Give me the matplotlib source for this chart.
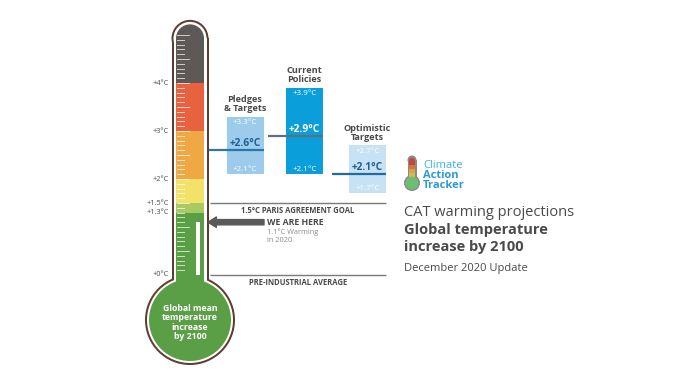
import numpy as np
import matplotlib.pyplot as plt
from matplotlib.patches import Rectangle, Ellipse

plt.rcParams['font.family'] = ['Open Sans', 'DejaVu Sans']

# thermometer bands (degC) and colours
band_edges = [0, 1.3, 1.5, 2.0, 3.0, 4.0]
band_colors = ["#5A9E46", "#A9C963", "#F2E267", "#F0A844", "#E9623F"]
top_color = "#5E5856"
temp_labels = [0, 1.3, 1.5, 2, 3, 4]
current_warming = 1.1
paris_goal = 1.5

# CAT scenarios
scenarios = ["Pledges\n& Targets", "Current\nPolicies", "Optimistic\nTargets"]
low = [2.1, 2.1, 1.7]
mid = [2.6, 2.9, 2.1]
high = [3.3, 3.9, 2.7]

# layout (x in pixels, y in degC)
SCALE = 48.0   # px per degC
Y0 = 275.0     # pixel row of 0 degC
def py(p):
    return (Y0 - p) / SCALE

W, H = 696, 385
fig = plt.figure(figsize=(W / 100, H / 100), dpi=100)
ax = fig.add_axes([0, 0, 1, 1])
ax.set_xlim(0, W)
ax.set_ylim(py(H), py(0))
ax.axis("off")

gray = "#4A4A4A"
brown = "#5E3D31"
tx = 190          # thermometer centre x
cap = 4.93        # centre of rounded top
bulb_y = py(320)

def ell(x, y, d, **kw):
    return Ellipse((x, y), d, d / SCALE, **kw)

# outline, white gap, then fill (tube + bulb per layer)
for hw, d, col in [(18.5, 90, brown), (16.5, 86, "white")]:
    ax.add_patch(Rectangle((tx - hw, bulb_y), 2 * hw, cap - bulb_y, color=col, lw=0))
    ax.add_patch(ell(tx, cap, 2 * hw, color=col, lw=0))
    ax.add_patch(ell(tx, bulb_y, d, color=col, lw=0))
ax.add_patch(ell(tx, bulb_y, 82, color=band_colors[0], lw=0))

tw = 28
ax.bar(tx, cap - 4.0, bottom=4.0, width=tw, color=top_color, lw=0)
ax.add_patch(ell(tx, cap, tw, color=top_color, lw=0))
ax.bar([tx] * 5, np.diff(band_edges), bottom=band_edges[:-1], width=tw,
       color=band_colors, lw=0)
ax.bar(tx, 0.6, bottom=-0.6, width=tw, color=band_colors[0], lw=0)

# scale ticks inside the tube
ticks = np.round(np.arange(0.1, 5.01, 0.1), 1)
for t in ticks:
    long = abs(t * 2 - round(t * 2)) < 1e-6
    ax.plot([tx - 13, tx - (1 if long else 6)], [t, t], color="white", lw=0.7, alpha=0.7)

# current warming column
ax.bar(tx + 8, current_warming, bottom=0, width=4, color="white", lw=0)

for t in temp_labels:
    lab = "+%g°C" % t
    ax.text(169, t, lab, ha="right", va="center", fontsize=5.3, color=gray)

ax.text(tx, bulb_y - 0.05, "Global mean\ntemperature\nincrease\nby 2100", ha="center",
        va="center", fontsize=6.3, fontweight="bold", color="white", linespacing=1.05)

# reference lines
ax.hlines([paris_goal, 0], 210, 386, color="#7A7A7A", lw=1)
ax.text(298, paris_goal - 0.15, "1.5°C PARIS AGREEMENT GOAL", ha="center", va="center",
        fontsize=5.5, fontweight="bold", color=gray)
ax.text(298, -0.15, "PRE-INDUSTRIAL AVERAGE", ha="center", va="center",
        fontsize=5.5, fontweight="bold", color=gray)

ax.annotate("", xy=(208, current_warming), xytext=(264, current_warming),
            arrowprops=dict(arrowstyle="simple,head_width=0.75,head_length=0.6,tail_width=0.38",
                            color="#5A5A5A", mutation_scale=10, shrinkA=0, shrinkB=0))
ax.text(267, current_warming, "WE ARE HERE", ha="left", va="center", fontsize=6.3,
        fontweight="bold", color=gray)
ax.text(267, current_warming - 0.13, "1.1°C Warming\nin 2020", ha="left", va="top",
        fontsize=5.3, color="#8A8A8A", linespacing=1.1)

# scenario boxes
xc = [245, 304.5, 367.5]
bw = 37
box_colors = ["#9CCBEB", "#0A9FDA", "#C7E2F5"]
line_colors = ["#2A78A8", "#5D7080", "#1F6C9F"]
mid_colors = ["#1E5F8E", "white", "#1E5F8E"]
line_start = [209, 268, 332]
ax.bar(xc, np.subtract(high, low), bottom=low, width=bw, color=box_colors, lw=0)
for i in range(3):
    ax.hlines(mid[i], line_start[i], xc[i] + bw / 2, color=line_colors[i], lw=1.6)
    ax.text(xc[i], high[i] - 0.12, "+%.1f°C" % high[i], ha="center", va="center",
            fontsize=5.8, color="white")
    ax.text(xc[i], low[i] + 0.1, "+%.1f°C" % low[i], ha="center", va="center",
            fontsize=5.8, color="white")
    ax.text(xc[i], mid[i] + 0.14, "+%.1f°C" % mid[i], ha="center", va="center",
            fontsize=7.3, fontweight="bold", color=mid_colors[i])
    ax.text(xc[i], high[i] + 0.08, scenarios[i], ha="center", va="bottom",
            fontsize=6.6, fontweight="bold", color=gray, linespacing=1.0)

# logo
lx = 412
ax.add_patch(Rectangle((lx - 4.5, py(186)), 9, py(160) - py(186), color="#8A8A8A", lw=0))
ax.add_patch(ell(lx, py(160), 9, color="#8A8A8A", lw=0))
ax.add_patch(ell(lx, py(183), 16, color="#8A8A8A", lw=0))
seg = ["#C2473A", "#D9733C", "#E3A043", "#C9C04F", "#7FBF6A"]
for k, c in enumerate(seg):
    ax.add_patch(Rectangle((lx - 3, py(161 + 4 * (k + 1))), 6, 4 / SCALE, color=c, lw=0))
ax.add_patch(ell(lx, py(161), 6, color=seg[0], lw=0))
ax.add_patch(ell(lx, py(183), 13, color="#6DBE72", lw=0))
ax.text(423, py(165), "Climate", ha="left", va="center", fontsize=8, color="#3FB0E3")
ax.text(423, py(175), "Action", ha="left", va="center", fontsize=8, fontweight="bold", color="#2A9AD8")
ax.text(423, py(185), "Tracker", ha="left", va="center", fontsize=8, fontweight="bold", color="#2A9AD8")

# title block
ax.text(404, py(212), "CAT warming projections", ha="left", va="center", fontsize=10.5, color=gray)
ax.text(404, py(230), "Global temperature", ha="left", va="center", fontsize=10.5,
        fontweight="bold", color=gray)
ax.text(404, py(247), "increase by 2100", ha="left", va="center", fontsize=10.5,
        fontweight="bold", color=gray)
ax.text(404, py(268), "December 2020 Update", ha="left", va="center", fontsize=8, color=gray)

fig.savefig("out.png", dpi=100)
